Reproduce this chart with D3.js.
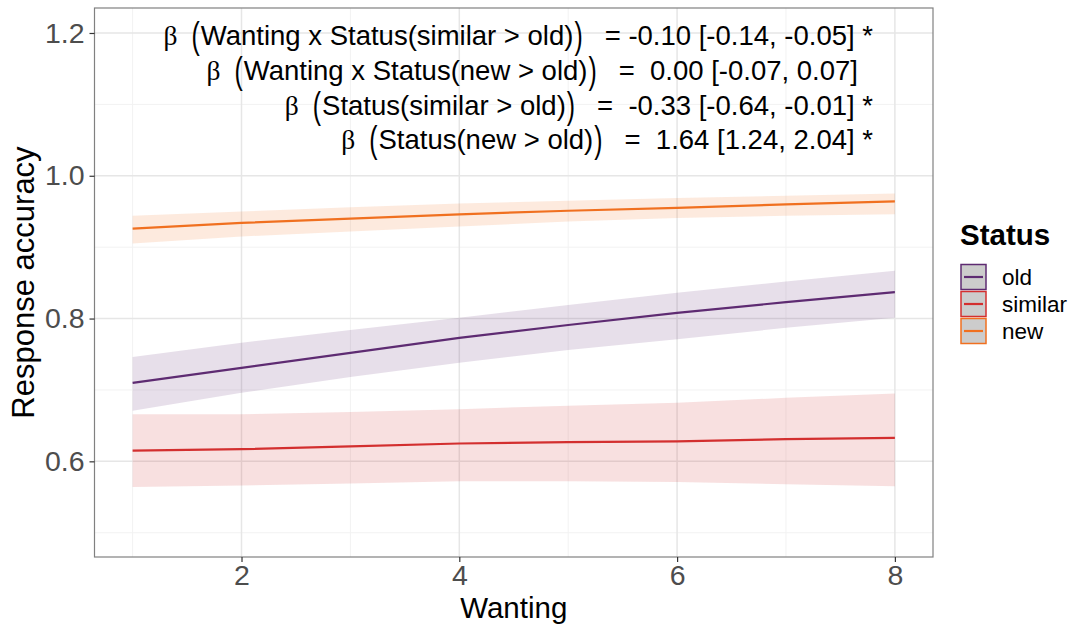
<!DOCTYPE html>
<html>
<head>
<meta charset="utf-8">
<script src="https://cdn.jsdelivr.net/npm/d3@7"></script>
<style>
  body { margin: 0; background: #fff; }
  text { font-family: "Liberation Sans", Arial, sans-serif; }
</style>
</head>
<body>
<script>
var width = 1070;
var height = 625;

// model predictions at Wanting = 1..8
var wanting = [1, 2, 3, 4, 5, 6, 7, 8];
var statusLevels = ["old", "similar", "new"];
var fitOld = [0.710, 0.731, 0.752, 0.773, 0.791, 0.808, 0.823, 0.837];
var loOld  = [0.671, 0.696, 0.718, 0.738, 0.756, 0.771, 0.787, 0.801];
var hiOld  = [0.746, 0.766, 0.784, 0.801, 0.819, 0.836, 0.852, 0.867];
var fitSimilar = [0.615, 0.617, 0.621, 0.625, 0.627, 0.628, 0.631, 0.633];
var loSimilar  = [0.564, 0.566, 0.569, 0.572, 0.572, 0.571, 0.568, 0.565];
var hiSimilar  = [0.666, 0.666, 0.669, 0.673, 0.678, 0.682, 0.689, 0.695];
var fitNew = [0.926, 0.934, 0.940, 0.946, 0.951, 0.955, 0.960, 0.964];
var loNew  = [0.905, 0.915, 0.922, 0.929, 0.936, 0.941, 0.944, 0.946];
var hiNew  = [0.944, 0.950, 0.956, 0.961, 0.965, 0.969, 0.972, 0.975];

var xTicks = [2, 4, 6, 8];
var yTicks = [0.6, 0.8, 1.0, 1.2];
var yMinor = [0.5, 0.7, 0.9, 1.1];
var xMinor = [1, 3, 5, 7];

// annotation lines: term inside the big brackets, then the estimate text
var annoTerms = ["Wanting x Status(similar > old)", "Wanting x Status(new > old)",
                 "Status(similar > old)", "Status(new > old)"];
var annoValues = ["= -0.10 [-0.14, -0.05] *", "=  0.00 [-0.07, 0.07]",
                  "=  -0.33 [-0.64, -0.01] *", "=  1.64 [1.24, 2.04] *"];

var colors = {old: "#5e2b72", similar: "#d32f2f", "new": "#f07020"};

var series = [
  {key: "similar", fit: fitSimilar, lo: loSimilar, hi: hiSimilar},
  {key: "old", fit: fitOld, lo: loOld, hi: hiOld},
  {key: "new", fit: fitNew, lo: loNew, hi: hiNew}
];

var pLeft = 94.5, pRight = 933, pTop = 8, pBottom = 557;

var x = d3.scaleLinear().domain([0.65, 8.35]).range([pLeft, pRight]);
var y = d3.scaleLinear().domain([0.466, 1.235]).range([pBottom, pTop]);

var svg = d3.select("body").append("svg")
  .attr("width", width)
  .attr("height", height);

// grid
svg.selectAll(".yminor").data(yMinor).enter().append("line")
  .attr("x1", pLeft).attr("x2", pRight)
  .attr("y1", function(d) { return y(d); }).attr("y2", function(d) { return y(d); })
  .style("stroke", "#f2f2f2").style("stroke-width", 1);
svg.selectAll(".xminor").data(xMinor).enter().append("line")
  .attr("y1", pTop).attr("y2", pBottom)
  .attr("x1", function(d) { return x(d); }).attr("x2", function(d) { return x(d); })
  .style("stroke", "#f2f2f2").style("stroke-width", 1);
svg.selectAll(".ymajor").data(yTicks).enter().append("line")
  .attr("x1", pLeft).attr("x2", pRight)
  .attr("y1", function(d) { return y(d); }).attr("y2", function(d) { return y(d); })
  .style("stroke", "#e6e6e6").style("stroke-width", 1.5);
svg.selectAll(".xmajor").data(xTicks).enter().append("line")
  .attr("y1", pTop).attr("y2", pBottom)
  .attr("x1", function(d) { return x(d); }).attr("x2", function(d) { return x(d); })
  .style("stroke", "#e6e6e6").style("stroke-width", 1.5);

// ribbons
var area = d3.area()
  .x(function(d, i) { return x(wanting[i]); })
  .y0(function(d) { return y(d[0]); })
  .y1(function(d) { return y(d[1]); });
var line = d3.line()
  .x(function(d, i) { return x(wanting[i]); })
  .y(function(d) { return y(d); });

series.forEach(function(s) {
  var band = s.lo.map(function(v, i) { return [v, s.hi[i]]; });
  svg.append("path")
    .attr("d", area(band))
    .style("fill", colors[s.key])
    .style("fill-opacity", 0.15);
});
series.forEach(function(s) {
  svg.append("path")
    .attr("d", line(s.fit))
    .style("fill", "none")
    .style("stroke", colors[s.key])
    .style("stroke-width", 2.2);
});

// panel border
svg.append("rect")
  .attr("x", pLeft).attr("y", pTop)
  .attr("width", pRight - pLeft).attr("height", pBottom - pTop)
  .style("fill", "none").style("stroke", "#808080").style("stroke-width", 1.2);

// axes
var yAxis = svg.append("g")
  .attr("transform", "translate(" + pLeft + ",0)")
  .call(d3.axisLeft(y).tickValues(yTicks).tickSize(5).tickPadding(5)
        .tickFormat(d3.format(".1f")));
var xAxis = svg.append("g")
  .attr("transform", "translate(0," + pBottom + ")")
  .call(d3.axisBottom(x).tickValues(xTicks).tickSize(5).tickPadding(3));
[yAxis, xAxis].forEach(function(a) {
  a.select(".domain").remove();
  a.selectAll(".tick line").style("stroke", "#333").style("stroke-width", 1.2);
  a.selectAll(".tick text")
    .style("font-family", "Liberation Sans, Arial, sans-serif")
    .style("font-size", "28.5px").style("fill", "#4d4d4d");
});

svg.append("text")
  .attr("transform", "translate(34," + ((pTop + pBottom) / 2) + ") rotate(-90)")
  .attr("text-anchor", "middle")
  .style("font-size", "31px")
  .text("Response accuracy");
svg.append("text")
  .attr("x", (pLeft + pRight) / 2).attr("y", 618)
  .attr("text-anchor", "middle")
  .style("font-size", "29.5px")
  .text("Wanting");

// annotations
var baselines = [45, 80, 114.5, 149];
var annoRight = 873;
annoTerms.forEach(function(term, i) {
  var g = svg.append("g");
  var cx = 0;
  var beta = g.append("text").attr("x", cx).attr("y", 0)
    .style("font-family", "Liberation Serif, serif").style("font-size", "27.5px")
    .text("β");
  cx += beta.node().getComputedTextLength() + 14;
  var lp = g.append("text")
    .attr("transform", "translate(" + cx + ",-9) scale(0.9,1.35) translate(0,9)")
    .style("font-size", "27.5px")
    .text("(");
  cx += lp.node().getComputedTextLength() * 0.9 + 1;
  var t = g.append("text").attr("x", cx).attr("y", 0)
    .style("font-size", "27.5px").text(term);
  cx += t.node().getComputedTextLength() + 1;
  var rp = g.append("text")
    .attr("transform", "translate(" + cx + ",-9) scale(0.9,1.35) translate(0,9)")
    .style("font-size", "27.5px")
    .text(")");
  cx += rp.node().getComputedTextLength() * 0.9 + 22;
  var v = g.append("text").attr("x", cx).attr("y", 0)
    .style("font-size", "27.5px").style("white-space", "pre")
    .text(annoValues[i]);
  cx += v.node().getComputedTextLength();
  var full = annoValues[i].slice(-1) === "*" ? cx : cx + 15;
  g.attr("transform", "translate(" + (annoRight - full) + "," + baselines[i] + ")");
});

// legend
var legend = svg.append("g");
legend.append("text")
  .attr("x", 960).attr("y", 245)
  .style("font-size", "29.5px").style("font-weight", "bold")
  .text("Status");
statusLevels.forEach(function(s, i) {
  var ky = 264 + i * 27;
  legend.append("rect")
    .attr("x", 961).attr("y", ky + 0.5)
    .attr("width", 25).attr("height", 25)
    .style("fill", "#cccccc")
    .style("stroke", colors[s]).style("stroke-width", 1.5);
  legend.append("line")
    .attr("x1", 964).attr("x2", 983)
    .attr("y1", ky + 13).attr("y2", ky + 13)
    .style("stroke", colors[s]).style("stroke-width", 2.2);
  legend.append("text")
    .attr("x", 1002).attr("y", ky + 13)
    .attr("dy", "0.35em")
    .style("font-size", "22.5px")
    .text(s);
});
</script>
</body>
</html>
